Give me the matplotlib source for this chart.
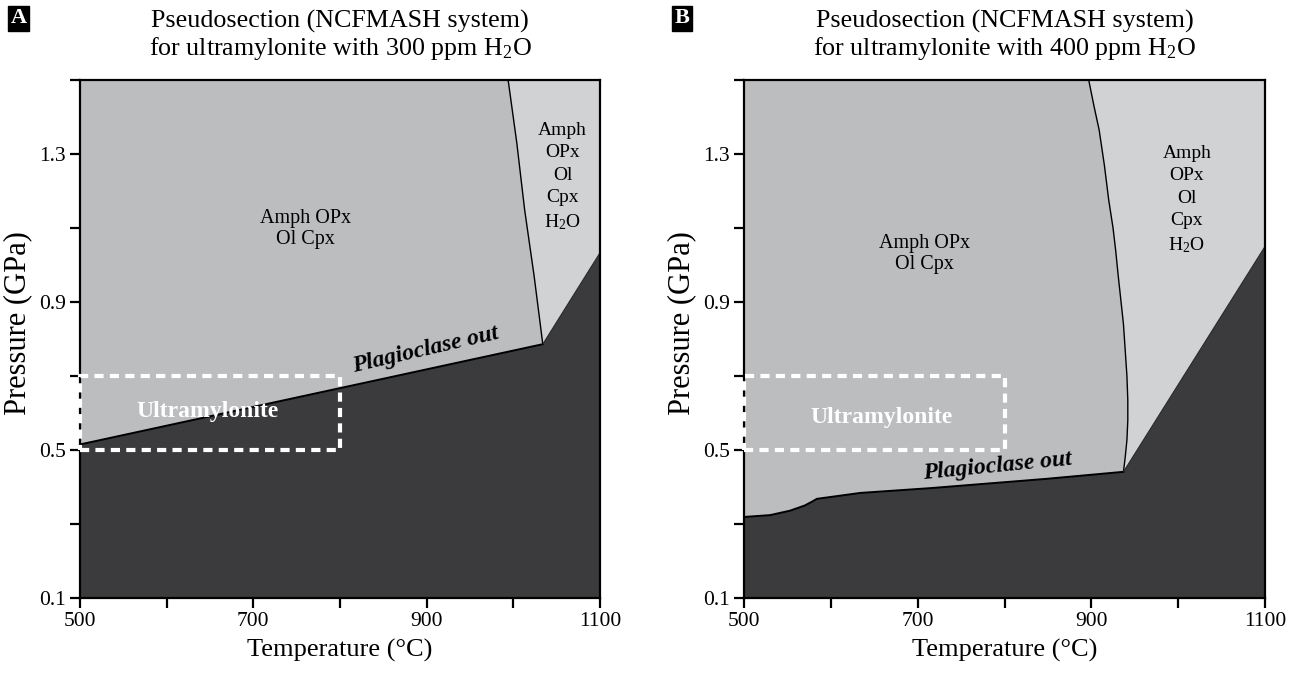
import matplotlib
matplotlib.use("Agg")
import matplotlib.pyplot as plt
from matplotlib.patches import Rectangle

plt.rcParams['font.family'] = ['Liberation Serif', 'DejaVu Serif']
plt.rcParams['mathtext.fontset'] = 'custom'
plt.rcParams['mathtext.rm'] = 'Liberation Serif'
plt.rcParams['mathtext.it'] = 'Liberation Serif:italic'

# colours of the phase fields
mid_grey = "#bcbdbf"
light_grey = "#d1d2d4"
dark_grey = "#3b3b3d"

# panel A (300 ppm H2O)
plag_A_T = [500, 1034]
plag_A_P = [0.515, 0.786]
h2o_A_T = [994, 1004, 1013, 1024, 1034]
h2o_A_P = [1.5, 1.33, 1.15, 0.97, 0.786]
dark_A_T = [1034, 1100]
dark_A_P = [0.786, 1.033]

# panel B (400 ppm H2O)
plag_B_T = [500, 530, 553, 570, 578, 584, 634, 715, 848, 937]
plag_B_P = [0.319, 0.324, 0.336, 0.350, 0.360, 0.368, 0.384, 0.397, 0.422, 0.441]
h2o_B_T = [897, 903, 909, 915, 920, 925, 928, 931, 934, 937, 939, 941, 942, 942, 941, 939, 937]
h2o_B_P = [1.5, 1.43, 1.365, 1.27, 1.176, 1.10, 1.04, 0.97, 0.905, 0.84, 0.77, 0.70,
           0.635, 0.58, 0.527, 0.48, 0.441]
dark_B_T = [937, 1100]
dark_B_P = [0.441, 1.05]

# ultramylonite box
box_T = [500, 800]
box_P = [0.5, 0.7]

x_ticks = [500, 600, 700, 800, 900, 1000, 1100]
x_labels = ["500", "", "700", "", "900", "", "1100"]
y_ticks = [0.1, 0.3, 0.5, 0.7, 0.9, 1.1, 1.3, 1.5]
y_labels = ["0.1", "", "0.5", "", "0.9", "", "1.3", ""]

fig = plt.figure(figsize=(12.98, 6.75), dpi=100)


def draw_panel(ax, plag_T, plag_P, h2o_T, h2o_P, dark_T, dark_P, ppm, letter,
               mid_xy, right_xy, ultra_xy, plag_xy, plag_rot):
    ax.set_facecolor(mid_grey)
    # light field (with free H2O)
    lt = h2o_T + dark_T[1:] + [1100]
    lp = h2o_P + dark_P[1:] + [1.5]
    ax.fill(lt, lp, color=light_grey, lw=0)
    # plagioclase-bearing field
    dt = plag_T + dark_T[1:] + [1100, 500]
    dp = plag_P + dark_P[1:] + [0.1, 0.1]
    ax.fill(dt, dp, color=dark_grey, lw=0)
    ax.plot(plag_T, plag_P, color="black", lw=1.4, solid_joinstyle="round")
    ax.plot(h2o_T, h2o_P, color="black", lw=1.0, solid_joinstyle="round")
    ax.plot(dark_T, dark_P, color="#2a2a2a", lw=0.8)

    ax.add_patch(Rectangle((box_T[0], box_P[0]), box_T[1] - box_T[0], box_P[1] - box_P[0],
                           fill=False, edgecolor="white", lw=3, linestyle=(0, (2.2, 1.5)),
                           clip_on=False, zorder=5))

    ax.set_xlim(500, 1100)
    ax.set_ylim(0.1, 1.5)
    ax.set_xticks(x_ticks)
    ax.set_xticklabels(x_labels)
    ax.set_yticks(y_ticks)
    ax.set_yticklabels(y_labels)
    ax.tick_params(direction="out", length=7, width=1.6, labelsize=15.5, pad=3)
    for s in ax.spines.values():
        s.set_linewidth(1.6)
    ax.set_xlabel("Temperature (°C)", fontsize=19, labelpad=6)
    ax.set_ylabel("Pressure (GPa)", fontsize=22)
    ax.yaxis.set_label_coords(-0.092, 0.53)
    ax.set_title("Pseudosection (NCFMASH system)\nfor ultramylonite with %d ppm H$_2$O" % ppm,
                 fontsize=18.7, pad=18, linespacing=1.1)

    ax.text(mid_xy[0], mid_xy[1], "Amph OPx\nOl Cpx", ha="center", va="center",
            fontsize=14.5, linespacing=1.15)
    ax.text(right_xy[0], right_xy[1], "Amph\nOPx\nOl\nCpx\nH$_2$O", ha="center", va="center",
            fontsize=14, linespacing=1.4)
    ax.text(ultra_xy[0], ultra_xy[1], "Ultramylonite", ha="center", va="center",
            fontsize=17, color="white", weight="bold")
    ax.text(plag_xy[0], plag_xy[1], "Plagioclase out", ha="center", va="center",
            fontsize=17, weight="bold", style="italic", rotation=plag_rot)

    bb = ax.get_position()
    fig.text(bb.x0 - 0.0475, 0.973, letter, ha="center", va="center", fontsize=16,
             weight="bold", color="white",
             bbox=dict(boxstyle="square,pad=0.12", facecolor="black", edgecolor="black"))


axA = fig.add_axes([80 / 1298, 1 - 598 / 675, 520 / 1298, 518 / 675])
draw_panel(axA, plag_A_T, plag_A_P, h2o_A_T, h2o_A_P, dark_A_T, dark_A_P, 300, "A",
           (760, 1.097), (1057, 1.238), (647, 0.603), (899, 0.77), 13)

axB = fig.add_axes([744 / 1298, 1 - 598 / 675, 521 / 1298, 518 / 675])
draw_panel(axB, plag_B_T, plag_B_P, h2o_B_T, h2o_B_P, dark_B_T, dark_B_P, 400, "B",
           (708, 1.03), (1010, 1.176), (658, 0.589), (792, 0.455), 5.5)

fig.savefig("out.png", dpi=100)
